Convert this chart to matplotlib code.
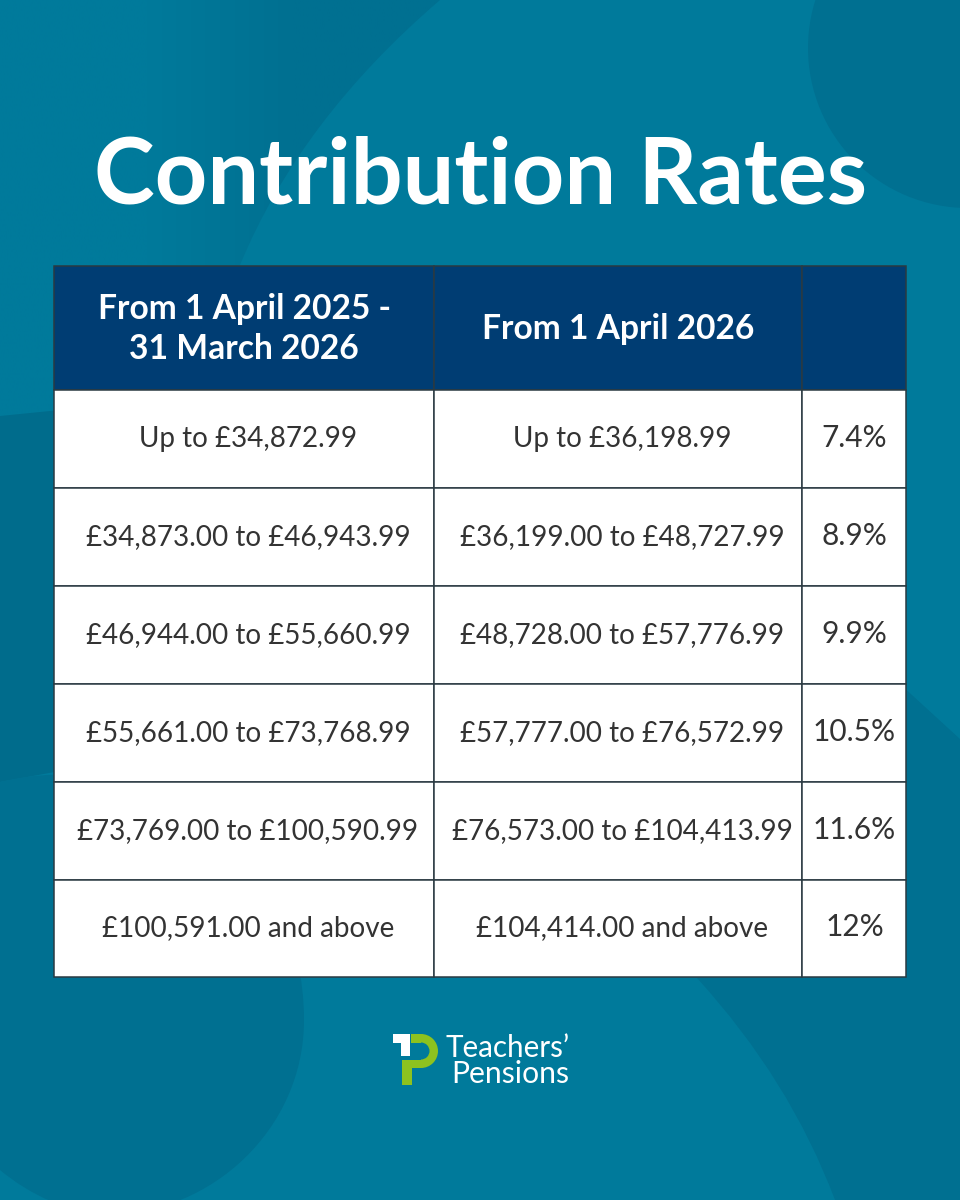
import matplotlib
matplotlib.use("Agg")
import matplotlib.pyplot as plt
import numpy as np
from matplotlib.colors import LinearSegmentedColormap
from matplotlib.patches import Rectangle, Circle, Wedge, PathPatch, Polygon
from matplotlib.path import Path

BG_BASE = "#007a9b"
BG_DARK = "#007091"
BG_DARKER = "#006c8c"
NAVY = "#003d73"
INK = "#333333"
LINE = "#2b3a42"
WHITE = "#ffffff"
GREEN = "#8dc21f"

title = "Contribution Rates"
headers = ["From 1 April 2025 -\n31 March 2026", "From 1 April 2026", ""]
bands_2025 = ["Up to £34,872.99", "£34,873.00 to £46,943.99", "£46,944.00 to £55,660.99",
              "£55,661.00 to £73,768.99", "£73,769.00 to £100,590.99", "£100,591.00 and above"]
bands_2026 = ["Up to £36,198.99", "£36,199.00 to £48,727.99", "£48,728.00 to £57,776.99",
              "£57,777.00 to £76,572.99", "£76,573.00 to £104,413.99", "£104,414.00 and above"]
rates = ["7.4%", "8.9%", "9.9%", "10.5%", "11.6%", "12%"]

col_edges = [54, 434, 802, 906]
row_edges = [266, 390, 488, 586, 684, 782, 880, 977]
body_centres = [248, 622, 854.5]

plt.rcParams["font.family"] = ["Lato", "DejaVu Sans"]
fig = plt.figure(figsize=(9.6, 12), dpi=100, facecolor=BG_BASE)
ax = fig.add_axes([0, 0, 1, 1])

# Background shapes
ax.add_patch(Rectangle((0, 0), 960, 1200, fc=BG_BASE, ec="none", zorder=0))
C3, C4 = Path.CURVE3, Path.CURVE4
top_left = Path([(0, 0), (440, 0), (300, 120), (240, 265), (220, 330), (54, 411), (0, 416), (0, 0)],
                [Path.MOVETO, Path.LINETO, C3, C3, C3, C3, Path.LINETO, Path.CLOSEPOLY])
top_left_patch = PathPatch(top_left, fc="none", ec="none", zorder=1, transform=ax.transData)
ax.add_patch(top_left_patch)
cmap = LinearSegmentedColormap.from_list("tl", [BG_BASE, BG_BASE, BG_DARK, BG_DARK])
grad = ax.imshow(np.linspace(0, 1, 256)[None, :], extent=(0, 440, 420, 0), aspect="auto",
                 cmap=cmap, zorder=1, interpolation="bilinear")
grad.set_clip_path(top_left_patch)

ax.add_patch(Polygon([(0, 416), (60, 410), (60, 771), (0, 782)], fc=BG_DARKER, ec="none", zorder=1))
lower_left = Path([(0, 782), (150, 745), (304, 850), (304, 1020), (304, 1130), (210, 1214), (110, 1214),
                   (70, 1214), (30, 1195), (0, 1170), (0, 782)],
                  [Path.MOVETO, C4, C4, C4, C4, C4, C4, C4, C4, C4, Path.CLOSEPOLY])
ax.add_patch(PathPatch(lower_left, fc=BG_DARK, ec="none", zorder=1))
ax.add_patch(Circle((968, 48), 160, fc=BG_DARK, ec="none", zorder=1))
bottom_right = Path([(697, 978), (790, 1080), (835, 1200), (960, 1200), (960, 739), (900, 684), (800, 978), (697, 978)],
                    [Path.MOVETO, C3, C3, Path.LINETO, Path.LINETO, Path.LINETO, Path.LINETO, Path.CLOSEPOLY])
ax.add_patch(PathPatch(bottom_right, fc=BG_DARK, ec="none", zorder=1))

ax.set_xlim(0, 960)
ax.set_ylim(1200, 0)
ax.axis("off")

ax.text(480, 204, title, color=WHITE, fontsize=66, fontweight="bold", ha="center", va="baseline", zorder=5)

# Table
for i in range(3):
    ax.add_patch(Rectangle((col_edges[i], row_edges[0]), col_edges[i + 1] - col_edges[i],
                           row_edges[1] - row_edges[0], fc=NAVY, ec=LINE, lw=1.1, zorder=3))
    ax.text((col_edges[i] + col_edges[i + 1]) / 2, (row_edges[0] + row_edges[1]) / 2 + 1, headers[i],
            color=WHITE, fontsize=24.2, fontweight="bold", ha="center", va="center", linespacing=1.3, zorder=5)

columns = [bands_2025, bands_2026, rates]
sizes = [20.1, 20.1, 21.5]
for c, values in enumerate(columns):
    for r, value in enumerate(values):
        ax.add_patch(Rectangle((col_edges[c], row_edges[r + 1]), col_edges[c + 1] - col_edges[c],
                               row_edges[r + 2] - row_edges[r + 1], fc=WHITE, ec=LINE, lw=1.1, zorder=3))
        ax.text(body_centres[c], (row_edges[r + 1] + row_edges[r + 2]) / 2 + 8, value,
                color=INK, fontsize=sizes[c], ha="center", va="baseline", zorder=5)

# Logo
ax.add_patch(Wedge((421, 1051), 17, -90, 90, width=8.5, fc=GREEN, ec="none", zorder=4))
ax.add_patch(Rectangle((411, 1034), 10, 8.5, fc=GREEN, ec="none", zorder=4))
ax.add_patch(Rectangle((402, 1059.5), 19, 8.5, fc=GREEN, ec="none", zorder=4))
ax.add_patch(Rectangle((402, 1059.5), 9.5, 25.5, fc=GREEN, ec="none", zorder=4))
ax.add_patch(Rectangle((393, 1034), 17, 8.5, fc=WHITE, ec="none", zorder=5))
ax.add_patch(Rectangle((401, 1034), 9, 21.5, fc=WHITE, ec="none", zorder=5))
ax.text(446, 1057, "Teachers’", color=WHITE, fontsize=21.3, ha="left", va="baseline", zorder=5)
ax.text(451, 1083, "Pensions", color=WHITE, fontsize=21.7, ha="left", va="baseline", zorder=5)

fig.savefig("out.png", dpi=100, facecolor=fig.get_facecolor())
